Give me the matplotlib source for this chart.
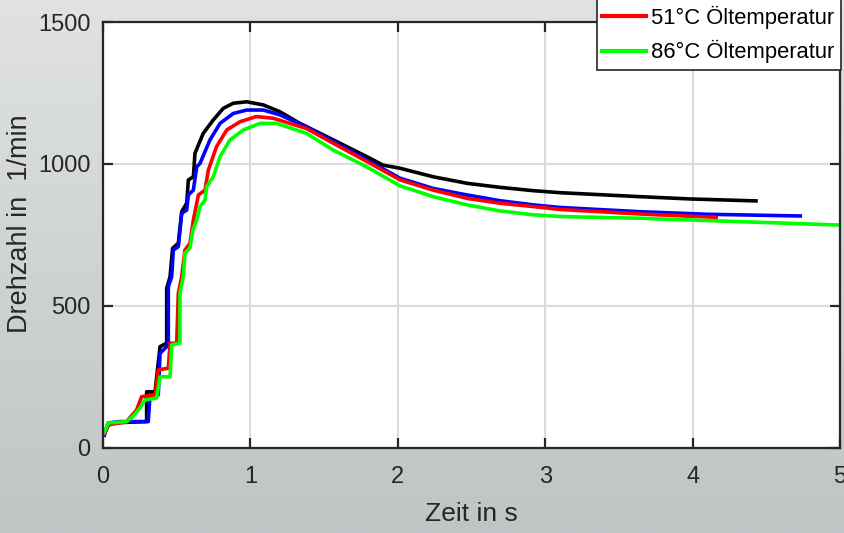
import numpy as np
import matplotlib
matplotlib.use("Agg")
import matplotlib.pyplot as plt
from matplotlib import font_manager
from matplotlib.patches import Rectangle

# --- measured run-up curves (time in s, speed in 1/min) ---
t_black = [0.01, 0.044, 0.296, 0.296, 0.353, 0.387, 0.432, 0.432, 0.455, 0.472, 0.511,
           0.534, 0.568, 0.579, 0.613, 0.624, 0.68, 0.748, 0.816, 0.884, 0.975, 1.088,
           1.2, 1.336, 1.562, 1.789, 1.90, 2.015, 2.24, 2.47, 2.69, 2.92, 3.1, 3.643,
           3.98, 4.43]
n_black = [52, 88, 93, 198, 198, 357, 369, 562, 603, 703, 721,
           832, 862, 944, 955, 1038, 1108, 1155, 1196, 1214, 1219, 1208,
           1184, 1143, 1085, 1026, 996, 985, 955, 932, 918, 906, 899, 885,
           877, 870]

t_blue = [0.01, 0.034, 0.115, 0.307, 0.319, 0.375, 0.387, 0.443, 0.443, 0.466, 0.477,
          0.511, 0.534, 0.568, 0.579, 0.613, 0.636, 0.658, 0.726, 0.794, 0.884, 0.975,
          1.088, 1.2, 1.38, 1.562, 1.789, 2.015, 2.24, 2.47, 2.69, 2.92, 3.1, 3.643,
          4.1, 4.73]
n_blue = [45, 88, 93, 93, 187, 187, 333, 363, 568, 603, 697,
          709, 826, 838, 891, 908, 990, 1002, 1085, 1143, 1178, 1190,
          1190, 1173, 1131, 1079, 1015, 950, 914, 891, 871, 856, 847, 832,
          823, 817]

t_red = [0.01, 0.034, 0.16, 0.228, 0.262, 0.353, 0.375, 0.443, 0.455, 0.5, 0.511,
         0.534, 0.556, 0.59, 0.613, 0.647, 0.692, 0.715, 0.77, 0.84, 0.93, 1.04,
         1.155, 1.38, 1.562, 1.789, 2.015, 2.24, 2.47, 2.69, 2.92, 3.1, 3.643, 4.16]
n_red = [50, 81, 93, 134, 181, 187, 275, 281, 369, 369, 545,
         603, 697, 721, 803, 891, 908, 979, 1061, 1120, 1149, 1167,
         1161, 1125, 1073, 1009, 944, 908, 879, 862, 850, 840, 824, 812]

t_green = [0.01, 0.034, 0.16, 0.2, 0.25, 0.285, 0.364, 0.387, 0.455, 0.466, 0.522,
           0.522, 0.545, 0.556, 0.59, 0.61, 0.636, 0.658, 0.692, 0.703, 0.748, 0.794,
           0.862, 0.952, 1.065, 1.178, 1.38, 1.562, 1.789, 2.015, 2.24, 2.47, 2.69,
           2.92, 3.1, 3.643, 4.32, 5.0]
n_green = [55, 88, 93, 110, 140, 169, 176, 251, 251, 363, 370,
           545, 603, 686, 704, 767, 803, 850, 873, 920, 955, 1026,
           1085, 1120, 1143, 1143, 1108, 1049, 990, 923, 885, 856, 835,
           821, 815, 809, 797, 785]

legend_labels = ["51°C Öltemperatur", "86°C Öltemperatur"]
colors = ["#000000", "#0000ff", "#ff0000", "#00ff00"]

x_ticks = [0, 1, 2, 3, 4, 5]
y_ticks = [0, 500, 1000, 1500]


def pick_font(names):
    available = {f.name for f in font_manager.fontManager.ttflist}
    for n in names:
        if n in available:
            return n
    return "DejaVu Sans"


font = pick_font(["Liberation Sans Narrow", "Liberation Sans", "Arial"])
plt.rcParams["font.family"] = [font, "DejaVu Sans"]

W, H = 845, 533
fig = plt.figure(figsize=(W / 100, H / 100), dpi=100)

# grey vertical gradient behind everything
bg = fig.add_axes([0, 0, 1, 1], zorder=-10)
grad = np.linspace(0, 1, 256)[:, None]
top = np.array([224, 226, 227]) / 255
bot = np.array([192, 196, 197]) / 255
img = top[None, None, :] * (1 - grad[..., None]) + bot[None, None, :] * grad[..., None]
bg.imshow(img, aspect="auto", extent=[0, 1, 0, 1])
bg.set_axis_off()

ax = fig.add_axes([103 / W, 1 - 448 / H, (840 - 103) / W, (448 - 22) / H])
ax.set_facecolor("white")

series = [(t_black, n_black), (t_blue, n_blue), (t_red, n_red), (t_green, n_green)]
lines = []
for (t, n), c in zip(series, colors):
    ln, = ax.plot(t, n, color=c, lw=2.6)
    lines.append(ln)

ax.set_xlim(0, 5)
ax.set_ylim(0, 1500)
ax.set_xticks(x_ticks)
ax.set_yticks(y_ticks)
ax.grid(True, color="#dcdcdc", lw=1.5)
ax.set_axisbelow(True)

dark = "#262626"
for s in ax.spines.values():
    s.set_color(dark)
    s.set_linewidth(1.6)
ax.tick_params(direction="in", length=7, width=1.6, colors=dark,
               labelsize=17, top=True, right=True)
ax.tick_params(axis="x", pad=13)
ax.tick_params(axis="y", pad=9)

ax.set_xlabel("Zeit in s", fontsize=19, color=dark)
ax.set_ylabel("Drehzahl in  1/min", fontsize=19.5, color=dark)
ax.xaxis.set_label_coords(0.5, -0.127)
ax.yaxis.set_label_coords(-0.095, 0.526)

# legend box runs past the top edge of the figure
box = Rectangle((597 / W, 1 - 70 / H), (841 - 597) / W, 90 / H,
                transform=fig.transFigure, facecolor="white", edgecolor=dark,
                lw=1.2, zorder=5)
fig.add_artist(box)

leg = fig.legend(handles=lines[2:], labels=legend_labels, loc="lower right",
                 bbox_to_anchor=(841 / W, 1 - 70 / H), bbox_transform=fig.transFigure,
                 fontsize=15.8, frameon=False, handlelength=2.0,
                 handletextpad=0.22, labelspacing=0.52, borderpad=0.3,
                 borderaxespad=0)
leg.set_zorder(6)
for ln in leg.get_lines():
    ln.set_linewidth(3)

fig.savefig("out.png", dpi=100)
